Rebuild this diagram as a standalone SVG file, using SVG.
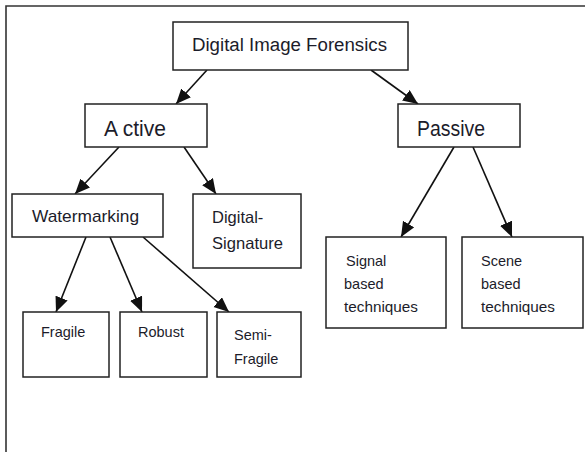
<svg xmlns="http://www.w3.org/2000/svg" width="585" height="452" viewBox="0 0 585 452">
<style>
.box{fill:#fff;stroke:#222;stroke-width:1.5}
.t{font-family:"Liberation Sans",Arial,sans-serif;fill:#1c1c2a}
.c{stroke:#111;stroke-width:1.6;fill:none;marker-end:url(#ah)}
</style>
<defs>
<marker id="ah" markerUnits="userSpaceOnUse" markerWidth="16" markerHeight="14" refX="15" refY="6.5" orient="auto">
<path d="M0,0 L15,6.5 L0,13 z" fill="#111"/>
</marker>
</defs>
<rect width="585" height="452" fill="#fff"/>
<path d="M6,452 V6 H585" fill="none" stroke="#333" stroke-width="1.6"/>
<g id="connectors">
<line class="c" x1="207" y1="70" x2="176" y2="104"/>
<line class="c" x1="371" y1="70" x2="418" y2="104"/>
<line class="c" x1="119" y1="147" x2="75" y2="194"/>
<line class="c" x1="184" y1="147" x2="216" y2="194"/>
<line class="c" x1="454" y1="147" x2="401" y2="237"/>
<line class="c" x1="473" y1="147" x2="512" y2="237"/>
<line class="c" x1="86" y1="237" x2="56" y2="312"/>
<line class="c" x1="110" y1="237" x2="142" y2="312"/>
<line class="c" x1="143" y1="237" x2="229" y2="312"/>
</g>
<g id="dif">
<rect class="box" x="173" y="22" width="235" height="48"/>
<text class="t" x="192" y="51" font-size="18" textLength="195" lengthAdjust="spacingAndGlyphs">Digital Image Forensics</text>
</g>
<g id="active">
<rect class="box" x="85" y="104" width="122" height="43"/>
<text class="t" x="104" y="136" font-size="21.5" textLength="62" lengthAdjust="spacingAndGlyphs">A ctive</text>
</g>
<g id="passive">
<rect class="box" x="398" y="104" width="122" height="43"/>
<text class="t" x="417" y="136" font-size="21.5" textLength="68" lengthAdjust="spacingAndGlyphs">Passive</text>
</g>
<g id="watermarking">
<rect class="box" x="12" y="194" width="151" height="43"/>
<text class="t" x="32" y="222" font-size="17" textLength="107" lengthAdjust="spacingAndGlyphs">Watermarking</text>
</g>
<g id="digital-signature">
<rect class="box" x="193" y="194" width="108" height="74"/>
<text class="t" x="212" y="223" font-size="16.5">Digital-</text>
<text class="t" x="212" y="249" font-size="16.5" textLength="71" lengthAdjust="spacingAndGlyphs">Signature</text>
</g>
<g id="signal">
<rect class="box" x="326" y="237" width="120" height="91"/>
<text class="t" x="346" y="266" font-size="14.5">Signal</text>
<text class="t" x="344" y="289" font-size="14.5">based</text>
<text class="t" x="344" y="312" font-size="14.5" textLength="74" lengthAdjust="spacingAndGlyphs">techniques</text>
</g>
<g id="scene">
<rect class="box" x="462" y="237" width="121" height="91"/>
<text class="t" x="481" y="266" font-size="14.5">Scene</text>
<text class="t" x="481" y="289" font-size="14.5">based</text>
<text class="t" x="481" y="312" font-size="14.5" textLength="74" lengthAdjust="spacingAndGlyphs">techniques</text>
</g>
<g id="fragile">
<rect class="box" x="23" y="312" width="86" height="65"/>
<text class="t" x="41" y="337" font-size="14.5">Fragile</text>
</g>
<g id="robust">
<rect class="box" x="120" y="312" width="87" height="65"/>
<text class="t" x="138" y="337" font-size="14.5">Robust</text>
</g>
<g id="semi-fragile">
<rect class="box" x="217" y="312" width="84" height="65"/>
<text class="t" x="234" y="340" font-size="14.5">Semi-</text>
<text class="t" x="234" y="364" font-size="14.5">Fragile</text>
</g>
</svg>
